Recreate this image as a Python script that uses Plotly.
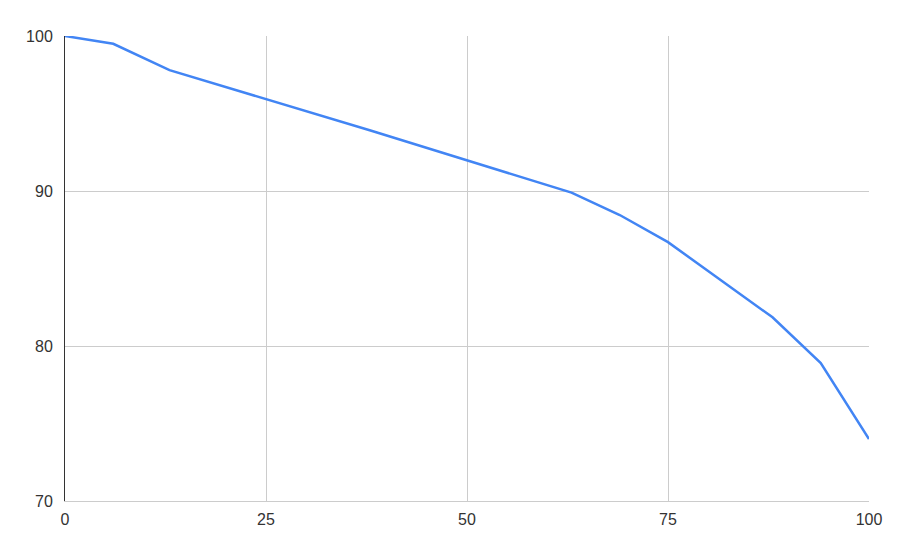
import plotly.graph_objects as go

x_vals = [0, 6, 13, 38, 63, 69, 75, 88, 94, 100]
y_vals = [100, 99.5, 97.8, 93.9, 89.9, 88.45, 86.7, 81.85, 78.9, 74.0]
x_ticks = [0, 25, 50, 75, 100]
y_ticks = [70, 80, 90, 100]

fig = go.Figure()
fig.add_trace(go.Scatter(x=x_vals, y=y_vals, mode="lines",
                         line=dict(color="#4285F4", width=2.5), showlegend=False))

fig.update_layout(
    width=890, height=547,
    margin=dict(l=57, r=29, t=28, b=54),
    paper_bgcolor="white", plot_bgcolor="white",
    font=dict(family="Liberation Sans, Arial, sans-serif", size=16, color="#333333"),
)
fig.update_xaxes(range=[0, 100], tickvals=x_ticks, showgrid=True, gridcolor="#cccccc",
                 gridwidth=1, zeroline=False, showline=True, linecolor="#cccccc",
                 ticks="", ticklabelstandoff=4, mirror=False)
fig.update_yaxes(range=[70, 100], tickvals=y_ticks, showgrid=True, gridcolor="#cccccc",
                 gridwidth=1, zeroline=False, showline=True, linecolor="#333333",
                 ticks="", ticklabelstandoff=8)
fig.write_html("out.html")
